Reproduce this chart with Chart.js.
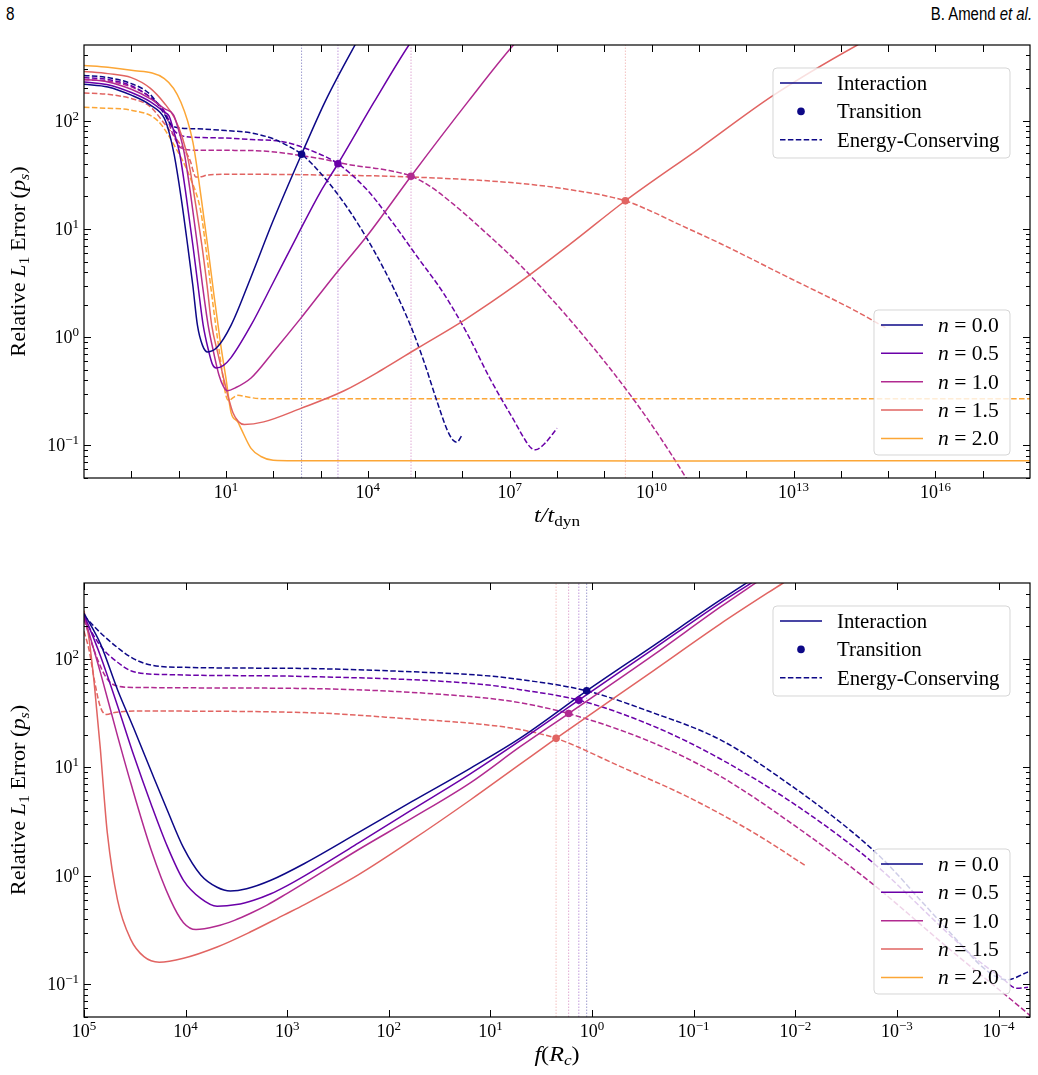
<!DOCTYPE html>
<html>
<head>
<meta charset="utf-8">
<title>Relative L1 error</title>
<script src="https://cdn.jsdelivr.net/npm/chart.js@4.4.1/dist/chart.umd.min.js"></script>
<style>
    body { margin: 0; background: #fff; width: 1038px; height: 1075px; position: relative; overflow: hidden; }
    .head { position: absolute; top: 4px; font: 18px "Liberation Sans", Arial, sans-serif; line-height: 20px; color: #000; }
    #pageNum { left: 6px; transform: scaleX(0.85); transform-origin: left; }
    #runHead { right: 6px; transform: scaleX(0.83); transform-origin: right; }
    .panel { position: absolute; left: 0; width: 1038px; }
    #topPanel { top: 30px; height: 510px; }
    #botPanel { top: 560px; height: 515px; }
</style>
</head>
<body>
<div class="head" id="pageNum">8</div>
<div class="head" id="runHead">B. Amend <i>et al.</i></div>
<div class="panel" id="topPanel"><canvas id="topChart" width="1038" height="510"></canvas></div>
<div class="panel" id="botPanel"><canvas id="botChart" width="1038" height="515"></canvas></div>

<script>
// series labels and colours (plasma)
const nLabels = ['0.0', '0.5', '1.0', '1.5', '2.0'];
const nColors = ['#0d0887', '#6a00a8', '#b12a90', '#e16462', '#fca636'];

// axis ranges / ticks
const Y_MIN = 0.05, Y_MAX = 500;
const yLabelExps = [-1, 0, 1, 2];
const topXRange = [1e-2, 1e18];
const topXTickExps = [-1, 0, 1, 2, 3, 4, 5, 6, 7, 8, 9, 10, 11, 12, 13, 14, 15, 16, 17];
const topXLabelExps = [1, 4, 7, 10, 13, 16];
const botXRange = [4.9e-5, 1e5];
const botXTickExps = [5, 4, 3, 2, 1, 0, -1, -2, -3, -4];
const botXLabelExps = [5, 4, 3, 2, 1, 0, -1, -2, -3, -4];

// top panel: [t/t_dyn, error], Interaction (solid)
const topIntN00 = [[0.01,217],[0.032,205],[0.1,172],[0.25,140],[0.5,105],[0.63,78],[0.81,48],[1.12,20],[1.55,7.1],[2.0,3.0],[2.5,1.29],[3.2,0.84],[4.1,0.73],[6.6,0.81],[12.9,1.29],[34,3.6],[98,11.7],[398,49],[1290,154],[5370,500],[7100,620]];
const topIntN05 = [[0.01,228],[0.032,215],[0.1,182],[0.25,150],[0.5,120],[0.63,110],[0.79,80],[1.05,50],[1.45,20],[2.0,7.1],[2.57,3.0],[3.3,1.3],[4.3,0.75],[5.2,0.56],[6.2,0.52],[8.9,0.55],[12.6,0.64],[34,1.29],[100,3.2],[316,8.5],[1000,22],[2340,40],[13500,148],[74000,500],[1e5,600]];
const topIntN10 = [[0.01,240],[0.032,228],[0.1,195],[0.25,160],[0.5,129],[0.79,112],[1.0,82],[1.32,50],[1.82,20],[2.5,7.1],[3.2,3.0],[4.2,1.3],[5.4,0.75],[7.1,0.45],[8.9,0.35],[10.8,0.32],[15.8,0.34],[34,0.42],[100,0.73],[385,1.5],[1950,3.7],[9800,8.7],[82000,30.7],[1.38e6,154],[1.2e7,500],[2.5e7,700]];
const topIntN15 = [[0.01,285],[0.032,272],[0.1,250],[0.25,200],[0.5,145],[0.81,107],[1.2,70],[1.62,42],[2.24,18],[3.1,7.1],[4.0,3.0],[5.0,1.3],[6.8,0.7],[8.9,0.42],[11.2,0.28],[14.1,0.2],[18.6,0.165],[24.5,0.156],[63,0.165],[385,0.22],[3160,0.32],[20000,0.5],[1.12e5,0.79],[1.1e6,1.44],[1.45e7,3.1],[1.95e8,7.3],[2.79e9,18.2],[1e11,55],[3.8e12,172],[2.24e14,500],[1e15,700]];
const topIntN20 = [[0.01,324],[0.032,312],[0.1,292],[0.5,245],[1.12,148],[2.0,63.6],[2.95,20.5],[4.1,7.1],[5.6,2.44],[7.8,0.84],[10,0.42],[12.9,0.2],[17.8,0.165],[20.9,0.143],[34,0.094],[55,0.079],[100,0.073],[1e3,0.072],[1e6,0.0722],[1e10,0.0718],[1e14,0.0721],[1e18,0.072]];

// top panel: Energy-Conserving (dashed)
const topEcN00 = [[0.01,262],[0.032,250],[0.1,220],[0.25,175],[0.5,115],[0.69,92],[1.0,86],[2.5,84],[10,81],[34,77],[100,68],[170,61],[398,49],[1410,27.5],[4370,14.1],[13500,6.3],[36300,2.75],[81300,1.26],[1.55e5,0.59],[2.95e5,0.25],[4.8e5,0.138],[6.3e5,0.112],[7.6e5,0.107],[1.0e6,0.126]];
const topEcN05 = [[0.01,250],[0.032,240],[0.1,210],[0.25,165],[0.5,122],[0.79,82],[1.26,72],[2.5,70],[10,69],[34,67],[170,63.6],[870,50],[2340,40],[9800,22.8],[31000,12],[1.12e5,5.5],[4.1e5,2.5],[1.26e6,1.08],[4.0e6,0.40],[1.23e7,0.17],[2.0e7,0.117],[2.8e7,0.095],[3.5e7,0.091],[5.6e7,0.105],[1.0e8,0.144]];
const topEcN10 = [[0.01,240],[0.032,232],[0.1,205],[0.25,165],[0.5,120],[0.79,72],[1.12,56],[2.5,53.3],[34,53],[870,45],[4370,39],[25000,35],[82000,30.7],[2.0e5,25],[5.6e5,17.8],[2.9e6,9.5],[1.7e7,4.6],[5.6e7,2.63],[1.8e8,1.48],[1e9,0.60],[3.6e9,0.29],[1e10,0.155],[2.95e10,0.076],[7.9e10,0.038]];
const topEcN15 = [[0.01,180],[0.032,175],[0.1,160],[0.25,135],[0.5,94],[1.12,59],[1.8,41.6],[2.0,35],[2.3,30.2],[3.2,30.5],[4.0,31.5],[15,32],[1000,31.5],[82000,30.2],[1.7e7,26.3],[1.95e8,23],[2.79e9,18.2],[1e10,14.5],[3.2e10,11.4],[2.9e11,7.3],[7.4e12,3.6],[1.9e14,1.78],[9.5e14,1.2]];
const topEcN20 = [[0.01,133],[0.032,130],[0.1,125],[0.36,100],[0.81,59],[1.8,29],[2.95,14.4],[4.1,5.0],[5.6,1.7],[7.8,0.59],[10,0.29],[11.7,0.26],[14,0.275],[17.8,0.29],[28.8,0.28],[55,0.27],[1e4,0.27],[1e18,0.27]];

// top panel: transition points
const topTransT = [398, 2340, 82000, 2.79e9];
const topTransErr = [49, 40, 30.7, 18.2];

// bottom panel: [f(R_c), error], Interaction (solid)
const botIntN00 = [[1e5,263],[69000,138],[46800,52],[32400,22.9],[21900,9.3],[15100,4.0],[10500,1.82],[7100,1.02],[4900,0.785],[3630,0.725],[2510,0.76],[1450,0.91],[676,1.3],[200,2.5],[59,4.85],[15.8,9.8],[5.1,18.6],[1.13,50.7],[0.25,132],[0.055,347],[0.025,560]];
const botIntN05 = [[1e5,257],[69000,107],[46800,37],[32400,12.9],[21900,4.6],[15100,1.86],[10500,0.91],[7100,0.62],[4900,0.525],[3160,0.543],[2140,0.596],[1450,0.684],[1000,0.813],[676,1.0],[200,2.0],[59,4.07],[15.8,8.7],[5.1,17.6],[1.35,41.6],[0.25,123],[0.055,327],[0.024,537]];
const botIntN10 = [[1e5,250],[69000,75],[46800,19.5],[34700,7.2],[21900,1.75],[14100,0.6],[10500,0.37],[7900,0.32],[5010,0.343],[3310,0.389],[2290,0.452],[1580,0.537],[1000,0.69],[676,0.86],[200,1.74],[59,3.4],[15.8,7.2],[5.1,15.5],[1.70,31.3],[0.25,108],[0.055,299],[0.022,537]];
const botIntN15 = [[1e5,278],[89000,150],[79400,60],[69000,14.7],[63000,5.0],[59000,2.5],[46800,0.6],[34700,0.26],[25700,0.18],[18200,0.16],[10500,0.174],[4900,0.221],[2290,0.305],[1070,0.437],[676,0.543],[200,1.02],[59,2.14],[15.8,5.0],[5.1,10.7],[2.26,18.5],[0.25,77.6],[0.055,209],[0.0132,500],[0.008,676]];

// bottom panel: Energy-Conserving (dashed)
const botEcN00 = [[1e5,250],[69000,174],[46800,127],[32400,100],[21900,87.6],[10500,83.5],[676,81.5],[59,76],[12.6,70.6],[5.1,64.5],[1.13,50.7],[0.28,33],[0.055,18],[0.012,7.2],[0.0027,2.5],[0.00126,1.31],[0.00059,0.60],[0.000275,0.275],[0.000132,0.135],[0.000083,0.11],[0.0000513,0.13]];
const botEcN05 = [[1e5,235],[69000,132],[46800,93],[32400,76],[15100,71.6],[676,68.8],[12.6,58.4],[5.1,52],[1.35,41.6],[0.25,24],[0.055,12],[0.0089,4.2],[0.0017,1.31],[0.00032,0.30],[0.000158,0.165],[0.000095,0.117],[0.000066,0.092],[0.0000513,0.094]];
const botEcN10 = [[1e5,230],[74000,100],[59000,65],[46800,56],[32400,54.5],[676,53.3],[12.6,44],[5.1,39.4],[1.70,31.3],[0.25,16.8],[0.055,8.3],[0.0089,2.66],[0.0017,0.83],[0.00032,0.22],[0.0000617,0.062],[0.0000447,0.048]];
const botEcN15 = [[1e5,180],[89000,120],[79400,65],[69000,36],[60000,30.7],[50000,32],[32400,33],[676,32],[63,28],[12.6,25],[5.1,22.3],[2.26,18.5],[0.53,10.2],[0.117,5.4],[0.0257,2.5],[0.0079,1.24]];

// bottom panel: transition points
const botTransF = [1.13, 1.35, 1.70, 2.26];
const botTransErr = [50.7, 41.6, 31.3, 18.5];

const SERIF = '"Liberation Serif", "Times New Roman", serif';

function withAlpha(hex, a) {
    const v = parseInt(hex.slice(1), 16);
    return `rgba(${(v >> 16) & 255}, ${(v >> 8) & 255}, ${v & 255}, ${a})`;
}

function curveSet(points, color, dashed) {
    return {
        data: points.map(p => ({ x: p[0], y: p[1] })),
        borderColor: color,
        borderWidth: 1.5,
        borderDash: dashed ? [5.5, 2.4] : [],
        pointRadius: 0,
        cubicInterpolationMode: 'monotone',
        fill: false,
        order: dashed ? 2 : 1
    };
}

function vlineSet(xv, color) {
    return {
        data: [{ x: xv, y: Y_MIN }, { x: xv, y: Y_MAX }],
        borderColor: withAlpha(color, 0.4),
        borderWidth: 1,
        borderDash: [1.5, 1.5],
        pointRadius: 0,
        tension: 0,
        order: 3
    };
}

function markerSet(xs, ys) {
    return {
        data: xs.map((v, i) => ({ x: v, y: ys[i] })),
        showLine: false,
        pointRadius: 3.8,
        pointBorderWidth: 0,
        pointBackgroundColor: nColors.slice(0, xs.length),
        pointBorderColor: nColors.slice(0, xs.length),
        order: 0
    };
}

// text with mixed fonts (sub/superscripts)
function drawRich(ctx, parts, x, y, align, sx) {
    let w = 0;
    parts.forEach(p => { ctx.font = p.font; p.w = ctx.measureText(p.t).width; w += p.w; });
    ctx.save();
    ctx.translate(x, y);
    ctx.scale(sx || 1, 1);
    ctx.textAlign = 'left';
    ctx.textBaseline = 'alphabetic';
    let cx = align === 'center' ? -w / 2 : align === 'right' ? -w : 0;
    parts.forEach(p => { ctx.font = p.font; ctx.fillText(p.t, cx, p.dy || 0); cx += p.w; });
    ctx.restore();
}

function drawPower(ctx, x, y, e, align) {
    const exp = e < 0 ? '\u2212' + (-e) : String(e);
    drawRich(ctx, [
        { t: '10', font: `18px ${SERIF}` },
        { t: exp, font: `13px ${SERIF}`, dy: -7 }
    ], x, y, align, 1);
}

function roundBox(ctx, l, t, w, h, r) {
    ctx.beginPath();
    ctx.moveTo(l + r, t);
    ctx.arcTo(l + w, t, l + w, t + h, r);
    ctx.arcTo(l + w, t + h, l, t + h, r);
    ctx.arcTo(l, t + h, l, t, r);
    ctx.arcTo(l, t, l + w, t, r);
    ctx.closePath();
    ctx.fillStyle = 'rgba(255,255,255,0.8)';
    ctx.fill();
    ctx.strokeStyle = 'rgba(204,204,204,0.8)';
    ctx.lineWidth = 1;
    ctx.stroke();
}

function drawLegends(ctx, a) {
    const font = `20px ${SERIF}`;
    // line-style legend, upper right
    let w = 237, h = 90;
    let L = a.right - 20 - w, T = a.top + 23;
    roundBox(ctx, L, T, w, h, 4);
    const styleRows = ['Interaction', 'Transition', 'Energy-Conserving'];
    styleRows.forEach((label, i) => {
        const cy = T + 15 + i * 28.4;
        ctx.strokeStyle = nColors[0];
        ctx.fillStyle = nColors[0];
        ctx.lineWidth = 1.5;
        if (i === 1) {
            ctx.beginPath();
            ctx.arc(L + 28, cy, 3.8, 0, Math.PI * 2);
            ctx.fill();
        } else {
            ctx.setLineDash(i === 2 ? [5.5, 2.4] : []);
            ctx.beginPath();
            ctx.moveTo(L + 7, cy);
            ctx.lineTo(L + 49, cy);
            ctx.stroke();
            ctx.setLineDash([]);
        }
        ctx.fillStyle = '#000';
        drawRich(ctx, [{ t: label, font }], L + 64, cy + 7, 'left', 1.04);
    });

    // n legend, lower right
    w = 136; h = 145;
    L = a.right - 20 - w; T = a.bottom - 23 - h;
    roundBox(ctx, L, T, w, h, 4);
    nLabels.forEach((lab, i) => {
        const cy = T + 15 + i * 28.35;
        ctx.strokeStyle = nColors[i];
        ctx.lineWidth = 1.5;
        ctx.beginPath();
        ctx.moveTo(L + 7, cy);
        ctx.lineTo(L + 49, cy);
        ctx.stroke();
        ctx.fillStyle = '#000';
        drawRich(ctx, [
            { t: 'n', font: `italic ${font}` },
            { t: ' = ' + lab, font }
        ], L + 64, cy + 7, 'left', 1.08);
    });
}

// frame, inward ticks, tick labels, axis titles, legends
const decor = {
    id: 'decor',
    afterDraw(chart, args, o) {
        const ctx = chart.ctx, a = chart.chartArea;
        const xs = chart.scales.x, ys = chart.scales.y;
        ctx.save();
        ctx.strokeStyle = '#000';
        ctx.lineWidth = 1;
        ctx.beginPath();
        o.xTickExps.forEach(e => {
            const px = Math.round(xs.getPixelForValue(Math.pow(10, e))) + 0.5;
            ctx.moveTo(px, a.bottom); ctx.lineTo(px, a.bottom - 7);
            ctx.moveTo(px, a.top); ctx.lineTo(px, a.top + 7);
        });
        for (let e = -2; e <= 2; e++) {
            for (let m = 1; m <= 9; m++) {
                const v = m * Math.pow(10, e);
                if (v < Y_MIN || v >= Y_MAX) continue;
                const len = m === 1 ? 7 : 4;
                const py = Math.round(ys.getPixelForValue(v)) + 0.5;
                ctx.moveTo(a.left, py); ctx.lineTo(a.left + len, py);
                ctx.moveTo(a.right, py); ctx.lineTo(a.right - len, py);
            }
        }
        ctx.stroke();
        ctx.lineWidth = 1.2;
        ctx.strokeRect(a.left, a.top, a.right - a.left, a.bottom - a.top);

        ctx.fillStyle = '#000';
        o.xLabelExps.forEach(e => drawPower(ctx, xs.getPixelForValue(Math.pow(10, e)), a.bottom + 20, e, 'center'));
        yLabelExps.forEach(e => drawPower(ctx, a.left - 5, ys.getPixelForValue(Math.pow(10, e)) + 6, e, 'right'));

        drawRich(ctx, o.xTitle, (a.left + a.right) / 2, a.bottom + 44, 'center', 1.15);

        ctx.save();
        ctx.translate(25, (a.top + a.bottom) / 2);
        ctx.rotate(-Math.PI / 2);
        drawRich(ctx, [
            { t: 'Relative ', font: `21px ${SERIF}` },
            { t: 'L', font: `italic 21px ${SERIF}` },
            { t: '1', font: `15px ${SERIF}`, dy: 4 },
            { t: ' Error (', font: `21px ${SERIF}` },
            { t: 'p', font: `italic 21px ${SERIF}` },
            { t: 's', font: `italic 15px ${SERIF}`, dy: 4 },
            { t: ')', font: `21px ${SERIF}` }
        ], 0, 0, 'center', 1.06);
        ctx.restore();

        drawLegends(ctx, a);
        ctx.restore();
    }
};

function buildChart(canvasId, padding, xRange, reverse, intCurves, ecCurves, transX, transY, extra) {
    const datasets = [];
    intCurves.forEach((c, i) => datasets.push(curveSet(c, nColors[i], false)));
    ecCurves.forEach((c, i) => datasets.push(curveSet(c, nColors[i], true)));
    transX.forEach((v, i) => datasets.push(vlineSet(v, nColors[i])));
    datasets.push(markerSet(transX, transY));

    return new Chart(document.getElementById(canvasId), {
        type: 'line',
        data: { datasets },
        options: {
            responsive: false,
            animation: false,
            events: [],
            layout: { padding },
            plugins: {
                legend: { display: false },
                tooltip: { enabled: false },
                decor: extra
            },
            scales: {
                x: { type: 'logarithmic', display: false, bounds: 'data', min: xRange[0], max: xRange[1], reverse },
                y: { type: 'logarithmic', display: false, bounds: 'data', min: Y_MIN, max: Y_MAX }
            }
        },
        plugins: [decor]
    });
}

buildChart('topChart', { left: 84, right: 8, top: 15, bottom: 62 }, topXRange, false,
    [topIntN00, topIntN05, topIntN10, topIntN15, topIntN20],
    [topEcN00, topEcN05, topEcN10, topEcN15, topEcN20],
    topTransT, topTransErr,
    {
        xTickExps: topXTickExps,
        xLabelExps: topXLabelExps,
        xTitle: [
            { t: 't/t', font: `italic 21px ${SERIF}` },
            { t: 'dyn', font: `15px ${SERIF}`, dy: 4 }
        ]
    });

buildChart('botChart', { left: 84, right: 8, top: 23, bottom: 58 }, botXRange, true,
    [botIntN00, botIntN05, botIntN10, botIntN15],
    [botEcN00, botEcN05, botEcN10, botEcN15],
    botTransF, botTransErr,
    {
        xTickExps: botXTickExps,
        xLabelExps: botXLabelExps,
        xTitle: [
            { t: 'f', font: `italic 21px ${SERIF}` },
            { t: '(', font: `21px ${SERIF}` },
            { t: 'R', font: `italic 21px ${SERIF}` },
            { t: 'c', font: `italic 15px ${SERIF}`, dy: 4 },
            { t: ')', font: `21px ${SERIF}` }
        ]
    });
</script>
</body>
</html>
